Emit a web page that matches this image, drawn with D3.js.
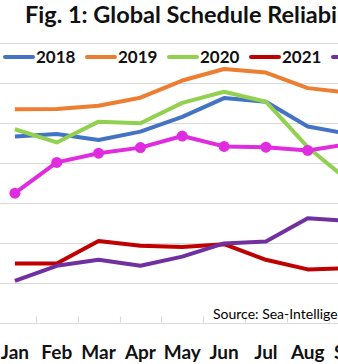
<!DOCTYPE html>
<html>
<head>
<meta charset="utf-8">
<script src="https://cdn.jsdelivr.net/npm/d3@7"></script>
<style>
  body { margin: 0; background: #fff; overflow: hidden; }
  svg { display: block; font-family: Lato, "Open Sans", sans-serif; }
</style>
</head>
<body>
<div id="chart"></div>
<script>
// data (schedule reliability, %)
const months = ["Jan","Feb","Mar","Apr","May","Jun","Jul","Aug","Sep","Oct","Nov","Dec"];
const years = ["2018","2019","2020","2021","2022","2023"];
const v2018 = [66.6, 67.2, 65.7, 67.8, 71.5, 76.2, 75.3, 69.1, 67.2];
const v2019 = [73.4, 73.5, 74.3, 76.3, 80.6, 83.5, 82.6, 78.7, 77.5];
const v2020 = [68.4, 65.1, 70.3, 69.9, 75.0, 77.8, 75.3, 63.9, 55.3];
const v2021 = [34.8, 34.8, 40.4, 39.2, 38.9, 39.6, 35.7, 33.3, 33.6];
const v2022 = [30.4, 34.2, 35.7, 34.2, 36.5, 39.8, 40.3, 46.1, 45.4];
const v2023 = [52.4, 60.1, 62.4, 63.8, 66.7, 64.1, 63.9, 63.1, 64.7];
const gridValues = [20, 30, 40, 50, 60, 70, 80, 90];

let width = 338,
    height = 364;

const colors = ["#4472C4", "#ED7D31", "#92D050", "#C00000", "#7030A0", "#E02BDF"];
const seriesValues = [v2018, v2019, v2020, v2021, v2022, v2023];

const svg = d3.select("#chart")
  .append("svg")
  .attr("width", width)
  .attr("height", height);

// the chart is wider than the window, so the range runs past the right edge
let x = d3.scaleBand()
  .domain(months)
  .range([-6, 496]);

let y = d3.scaleLinear()
  .domain([20, 90])
  .range([322.5, 43]);

const cx = m => x(m) + x.bandwidth() / 2;

// gridlines
svg.append("g")
  .selectAll("line")
  .data(gridValues)
  .join("line")
  .attr("x1", 0)
  .attr("x2", width)
  .attr("y1", d => Math.round(y(d)) + 0.5)
  .attr("y2", d => Math.round(y(d)) + 0.5)
  .attr("stroke", "#d9d9d9")
  .attr("stroke-width", 1.2);

// small ticks between categories, pointing up
svg.append("g")
  .selectAll("line")
  .data(months.slice(1))
  .join("line")
  .attr("x1", d => Math.round(x(d)) + 0.5)
  .attr("x2", d => Math.round(x(d)) + 0.5)
  .attr("y1", y(20) - 6)
  .attr("y2", y(20))
  .attr("stroke", "#d9d9d9")
  .attr("stroke-width", 1.2);

// month labels
svg.append("g")
  .attr("transform", `translate(0,${y(20)})`)
  .call(d3.axisBottom(x).tickSize(0).tickPadding(0))
  .call(g => g.select(".domain").remove())
  .selectAll("text")
  .attr("dy", null)
  .attr("y", 36)
  .attr("fill", "#111")
  .attr("font-size", 19)
  .attr("font-weight", "bold")
  .attr("font-family", "Lato, sans-serif");

// lines
const line = d3.line()
  .x((d, i) => cx(months[i]))
  .y(d => y(d));

svg.append("g")
  .selectAll("path")
  .data(seriesValues)
  .join("path")
  .attr("d", d => line(d))
  .attr("fill", "none")
  .attr("stroke", (d, i) => colors[i])
  .attr("stroke-width", 4)
  .attr("stroke-linejoin", "round");

// 2023 has markers
svg.append("g")
  .attr("fill", colors[5])
  .selectAll("circle")
  .data(v2023)
  .join("circle")
  .attr("cx", (d, i) => cx(months[i]))
  .attr("cy", d => y(d))
  .attr("r", 5.5);

// title
svg.append("text")
  .attr("x", 25)
  .attr("y", 23)
  .attr("font-size", 23.5)
  .attr("font-weight", "bold")
  .attr("fill", "#111")
  .text("Fig. 1: Global Schedule Reliability");

// legend
const legend = svg.append("g")
  .selectAll("g")
  .data(years)
  .join("g")
  .attr("transform", (d, i) => `translate(${5 + i * 82},57)`);

legend.append("line")
  .attr("x1", 0)
  .attr("x2", 28)
  .attr("stroke", (d, i) => colors[i])
  .attr("stroke-width", 4)
  .attr("stroke-linecap", "round");

legend.append("text")
  .attr("x", 31)
  .attr("dy", "0.36em")
  .attr("font-size", 17)
  .attr("font-weight", "bold")
  .attr("fill", "#111")
  .text(d => d);

// source note
svg.append("text")
  .attr("x", 213)
  .attr("y", 319)
  .attr("font-size", 14)
  .attr("fill", "#000")
  .text("Source: Sea-Intelligence");
</script>
</body>
</html>
